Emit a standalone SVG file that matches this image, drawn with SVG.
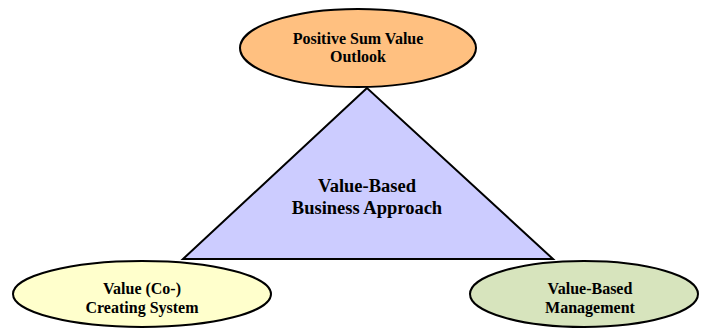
<svg xmlns="http://www.w3.org/2000/svg" width="717" height="328" viewBox="0 0 717 328">
<style>
.s{stroke:#000;stroke-width:2}
.t{font-family:"Liberation Serif","Times New Roman",serif;font-weight:bold;text-anchor:middle;fill:#000}
.sm{font-size:16px}
.lg{font-size:18.5px}
</style>
<rect width="717" height="328" fill="#fff"/>
<g id="approach">
<polygon class="s" points="367,88 183,259 553,259" fill="#CCCCFF"/>
<text class="t lg" x="367" y="192">Value-Based</text>
<text class="t lg" x="367" y="214">Business Approach</text>
</g>
<g id="outlook">
<ellipse class="s" cx="358" cy="48" rx="118" ry="39" fill="#FFC080"/>
<text class="t sm" x="358" y="44">Positive Sum Value</text>
<text class="t sm" x="358" y="62">Outlook</text>
</g>
<g id="creating">
<ellipse class="s" cx="142" cy="294" rx="129" ry="33" fill="#FFFFCC"/>
<text class="t sm" x="142" y="294">Value (Co-)</text>
<text class="t sm" x="142" y="313">Creating System</text>
</g>
<g id="management">
<ellipse class="s" cx="584" cy="294" rx="114" ry="33" fill="#D7E4BD"/>
<text class="t sm" x="590" y="294">Value-Based</text>
<text class="t sm" x="590" y="313">Management</text>
</g>
<g id="connectors"></g>
</svg>
